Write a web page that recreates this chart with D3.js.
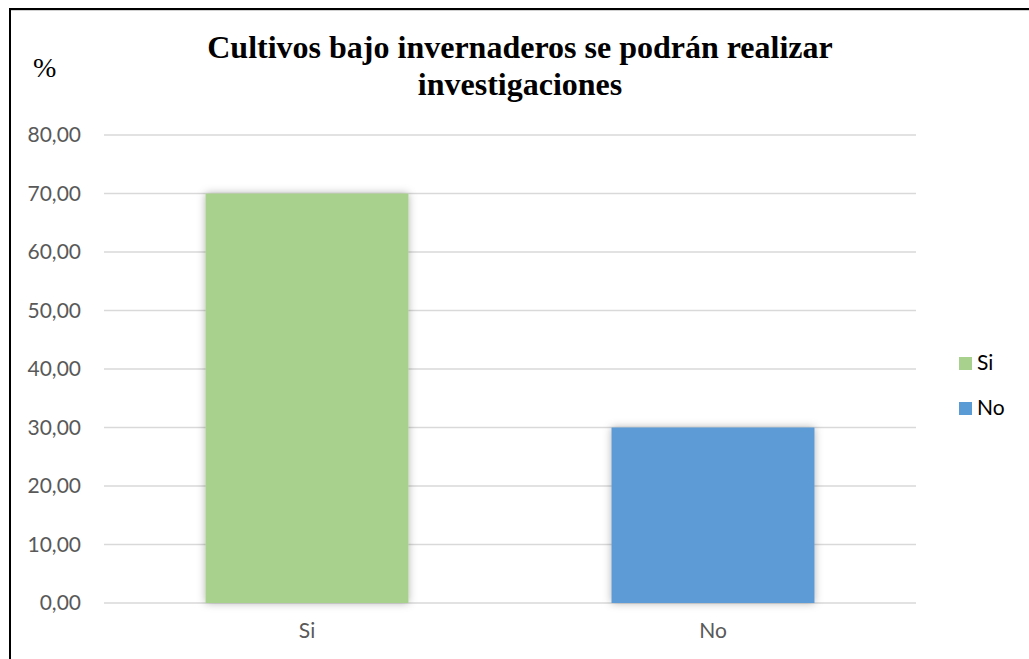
<!DOCTYPE html>
<html><head><meta charset="utf-8">
<script src="https://cdn.jsdelivr.net/npm/d3@7"></script>
<style>html,body{margin:0;padding:0;background:#fff;}svg{display:block;}</style>
</head><body>
<script>
const categories = ["Si", "No"];
const values = [70.0, 30.0];
const colors = ["#A9D18E", "#5B9BD5"];
const yTicks = [0, 10, 20, 30, 40, 50, 60, 70, 80];
const titleLines = ["Cultivos bajo invernaderos se podrán realizar", "investigaciones"];
const yLabel = "%";

const W = 1029, H = 659;
const svg = d3.select("body").append("svg").attr("width", W).attr("height", H);
const defs = svg.append("defs");
const f = defs.append("filter").attr("id", "sh").attr("x", "-20%").attr("y", "-20%").attr("width", "140%").attr("height", "140%");
f.append("feDropShadow").attr("dx", 0).attr("dy", 0).attr("stdDeviation", 4).attr("flood-color", "#000").attr("flood-opacity", 0.3);

// border
svg.append("line").attr("x1", 9).attr("x2", W).attr("y1", 10.5).attr("y2", 10.5).attr("stroke", "#d0d0d0").attr("stroke-width", 1);
svg.append("line").attr("x1", 9).attr("x2", W).attr("y1", 9).attr("y2", 9).attr("stroke", "#000").attr("stroke-width", 2);
svg.append("line").attr("x1", 10).attr("x2", 10).attr("y1", 8).attr("y2", H).attr("stroke", "#000").attr("stroke-width", 2);

const x = d3.scaleBand().domain(categories).range([104, 916]).paddingInner(0.5).paddingOuter(0.25);
const y = d3.scaleLinear().domain([0, 80]).range([603, 135]);

// gridlines
svg.append("g").selectAll("line").data(yTicks).join("line")
  .attr("x1", 104).attr("x2", 916)
  .attr("y1", d => y(d)).attr("y2", d => y(d))
  .attr("stroke", "#d9d9d9").attr("stroke-width", 1.5);

// y axis labels
const yAxis = d3.axisLeft(y).tickValues(yTicks).tickSize(0).tickPadding(0)
  .tickFormat(d => d3.format(".2f")(d).replace(".", ","));
const ga = svg.append("g").attr("transform", "translate(81,0)").call(yAxis);
ga.select(".domain").remove();
ga.selectAll("text").attr("font-family", "Lato, sans-serif").attr("font-size", 21).attr("fill", "#595959");

// bars
svg.append("g").selectAll("rect").data(categories).join("rect")
  .attr("x", d => x(d)).attr("width", x.bandwidth())
  .attr("y", (d, i) => y(values[i])).attr("height", (d, i) => y(0) - y(values[i]))
  .attr("fill", (d, i) => colors[i]).attr("filter", "url(#sh)");

// x axis labels
const xAxis = d3.axisBottom(x).tickSize(0).tickPadding(0);
const gx = svg.append("g").attr("transform", "translate(0,623)").call(xAxis);
gx.select(".domain").remove();
gx.selectAll("text").attr("dy", "0.71em").attr("font-family", "Lato, sans-serif").attr("font-size", 21).attr("fill", "#595959");

// title
svg.append("g").selectAll("text").data(titleLines).join("text")
  .attr("x", 520).attr("y", (d, i) => 58 + i * 37)
  .attr("text-anchor", "middle")
  .attr("font-family", "'Liberation Serif', 'Times New Roman', serif")
  .attr("font-weight", "bold").attr("font-size", 32).attr("fill", "#000")
  .text(d => d);

svg.append("text").attr("x", 33).attr("y", 77)
  .attr("font-family", "'Liberation Serif', 'Times New Roman', serif")
  .attr("font-size", 28).attr("fill", "#000").text(yLabel);

// legend
const lg = svg.append("g").selectAll("g").data(categories).join("g")
  .attr("transform", (d, i) => `translate(959,${357 + i * 45})`);
lg.append("rect").attr("width", 13).attr("height", 13).attr("fill", (d, i) => colors[i]);
lg.append("text").attr("x", 18).attr("y", 13).attr("font-family", "Lato, sans-serif")
  .attr("font-size", 21).attr("fill", "#000").text(d => d);
</script>
</body></html>
